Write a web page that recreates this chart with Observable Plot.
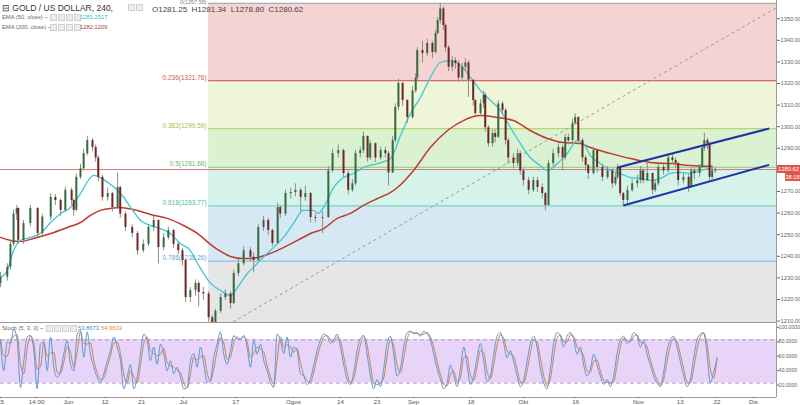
<!DOCTYPE html>
<html><head><meta charset="utf-8">
<script src="https://cdn.jsdelivr.net/npm/d3@7"></script>
<script src="https://cdn.jsdelivr.net/npm/@observablehq/plot@0.6"></script>
<style>
body{margin:0;width:800px;height:405px;overflow:hidden;background:#fff;font-family:"Liberation Sans",Arial,sans-serif;}
#wrap{position:relative;width:800px;height:405px;}
#wrap svg{display:block;}
#main{position:absolute;left:0;top:0;}
#stoch{position:absolute;left:0;top:322px;}
.ov{position:absolute;white-space:nowrap;line-height:1;}
.box{display:inline-block;width:5px;height:5px;border:1px solid #cfcfcf;background:#ececec;margin-right:1px;vertical-align:middle;}
.sep{position:absolute;background:#9a9a9a;}
.tag{position:absolute;color:#fff;font-size:5.8px;text-align:center;line-height:8px;height:8px;}
</style></head><body><div id="wrap">
<div id="main"></div><div id="stoch"></div>
</div>
<script>
// ---------- DATA ----------
const candleDay = [-13.0,-11.7,-11.1,-10.5,-9.9,-9.6,-8.6,-7.3,-5.9,-5.0,-3.4,-2.5,-1.5,-0.6,0.6,1.0,1.5,2.3,2.9,3.6,4.6,5.2,5.7,6.5,7.5,8.4,9.4,9.9,10.9,12.2,13.2,14.3,15.3,16.3,17.2,18.2,19.1,20.1,21.0,21.8,22.4,23.3,24.3,24.9,25.8,26.8,27.5,28.1,29.1,30.0,31.0,31.6,32.5,33.5,34.8,35.4,36.3,37.3,38.2,39.0,40.0,40.5,41.5,42.5,43.4,44.4,45.3,46.3,47.2,48.6,49.7,50.5,51.6,52.6,53.5,54.3,54.9,55.8,56.4,57.2,57.7,58.7,59.7,60.6,61.2,62.0,62.5,63.1,63.9,64.8,65.8,66.4,66.7,67.7,68.6,69.6,70.2,70.6,71.1,71.7,72.1,72.7,73.4,74.0,74.6,75.3,75.9,76.5,77.4,77.8,78.8,79.4,79.7,80.3,81.1,81.6,82.2,83.0,83.6,84.1,85.1,85.9,86.4,87.0,88.0,88.9,89.7,90.6,91.2,91.8,92.7,93.7,94.5,95.0,95.6,96.4,96.9,97.5,98.3,98.9,99.4,100.4,101.1,102.1,103.1,104.0,104.6,105.0,105.5,106.1,106.9,107.8,108.8,109.4,109.9,110.7,111.7,112.2,112.8,113.8,114.7,115.5,116.1,116.6,117.6,118.6,119.1,119.7,120.7,121.2,121.6,122.2,122.6,123.1,123.7];
const candleClose = [1230.8,1235.4,1246,1260,1262.6,1247.8,1255.6,1262.6,1251,1258.6,1267.7,1266.3,1261.7,1271,1266.3,1261.7,1277,1281,1288,1294,1290.8,1286,1277,1267.7,1269.5,1263,1272.3,1260,1253.8,1251,1243,1246,1253.8,1257,1244.5,1249,1252.4,1246,1243,1238.5,1221.4,1224.6,1227.9,1223.7,1223,1212,1207,1215,1221.4,1223,1218.6,1232.5,1237,1243,1240,1238.5,1253.8,1257,1252.4,1246.4,1263,1260,1269.5,1270,1271,1267.7,1269.5,1258.4,1258,1258.4,1280,1288,1289.4,1278.8,1271,1274,1288,1289.4,1296,1286,1292.6,1286,1289.4,1288,1279,1294,1309.4,1320.5,1312.6,1304.7,1317,1323,1335.7,1334.3,1339,1334.8,1343.6,1349.6,1355,1347.3,1337,1328,1331,1329.7,1323,1328,1330,1322,1312.6,1306.6,1311,1315,1300,1292.6,1297.3,1295.5,1311,1308,1294,1286,1283.4,1288,1280,1275.5,1271,1275.5,1272.3,1269.5,1264,1283.4,1288,1290.8,1286,1295.5,1294,1302,1304.7,1294,1286,1282.5,1278.8,1289.4,1281.6,1277,1280,1274,1277,1281.6,1269.5,1266.3,1271,1274,1275.5,1280,1275.5,1278.8,1271,1274,1281.6,1280,1286,1284.8,1283.4,1275.5,1277,1272.3,1280,1278.8,1281.6,1290.4,1294,1292.6,1277,1280,1280.62];
const candleHigh = [1233,1237,1248,1262,1264,1263,1257,1264,1263,1260,1269.5,1269,1267,1272.5,1272,1267,1278.5,1283,1290,1296,1295,1292,1287,1278,1272,1270,1279,1273,1261,1255,1252,1248,1255,1259,1257.5,1251,1254,1253,1247,1244,1239,1226,1229.5,1229,1226,1224,1213,1216,1223,1225,1224,1234,1239,1245,1244.5,1242,1255,1259,1258,1253,1265,1264,1271,1272,1274,1272,1273,1270,1260,1261,1282,1290,1292,1290,1280,1276,1289.5,1291,1298,1296,1294,1293,1291,1291,1289,1296,1311,1322.5,1321,1313,1319,1325,1337,1340,1341,1340,1345,1351,1357.6,1356,1348,1338,1333,1332.5,1331,1330,1332,1331,1322,1313,1313,1317,1316,1301,1299,1299,1312.5,1312,1309,1295,1288,1290,1289,1281,1277,1277,1277,1274,1270,1285,1290,1292.5,1292,1297,1297,1304,1306.5,1305,1295,1287,1283,1291,1290,1283,1282,1281,1279,1283,1282,1270,1273,1276,1278,1282,1281,1285,1279,1276,1283,1283,1288,1288,1286,1284,1279,1278,1281.5,1281,1283,1292,1297.5,1295,1293,1282,1281.34];
const candleLow = [1226,1229,1234,1245,1257,1246,1246,1254,1249,1250,1257,1264,1259,1261,1264,1259,1261,1276,1280,1287,1289,1284,1275,1266,1266,1261,1262,1258,1252,1249,1241,1242,1245,1252,1237,1243,1248,1244,1241,1236,1219,1219,1222,1217,1220,1210,1204.5,1206,1214,1220,1216,1218,1231,1236,1238,1233,1238,1252,1250,1245,1246,1258,1259,1267,1268,1261,1266,1256,1256,1251,1258,1279,1286,1277,1269,1270,1273,1286,1288,1284,1285,1284,1285,1286,1273,1279,1293,1308,1310,1302,1304,1316,1322,1330,1333,1332,1334,1343,1348,1345,1335,1326,1326,1327,1321,1322,1326,1314,1310,1305,1305,1309,1298,1291,1291,1293,1295,1306,1292,1283,1281,1282,1278,1273,1269,1270,1270,1267,1261.5,1264,1282,1286,1280,1285,1292,1293,1301,1292,1284,1280,1276,1278,1279,1275,1276,1272,1273,1276,1268,1264,1265,1270,1272,1274,1274,1275,1269,1270,1273,1278,1279,1283,1281,1273,1274,1270,1272,1276,1277,1281,1289,1290,1275,1276,1278.8];
const firstOpen = 1228;

const ema50Day = [-13.0,-11.7,-10.5,-9.2,-7.3,-5.4,-3.4,-1.5,0.4,2.3,3.8,4.8,6.1,7.5,9.0,10.3,11.9,13.8,15.7,17.6,19.5,21.4,23.3,24.7,27.2,29.1,31.0,32.3,34.2,36.1,38.0,39.2,41.1,43.0,44.9,46.8,47.8,48.8,50.7,52.6,54.5,56.4,59.1,61.6,63.5,65.4,67.3,69.2,71.1,73.0,75.0,76.9,78.8,80.7,82.6,84.5,86.4,88.3,90.2,91.6,93.5,95.4,97.3,98.5,99.8,101.7,103.6,105.5,107.5,109.4,111.3,113.2,115.1,117.0,118.9,120.8,123.1];
const ema50 = [1230.6,1233.9,1243.1,1247.8,1249.2,1251.0,1256.1,1260.3,1263.1,1269.5,1275.6,1277.9,1276.9,1274.6,1271.9,1268.6,1263.1,1257.0,1254.7,1253.3,1251.0,1246.4,1243.1,1237.1,1227.9,1224.6,1222.3,1226.0,1232.5,1237.1,1241.8,1244.5,1249.2,1255.6,1261.7,1261.7,1260.3,1263.1,1272.3,1276.9,1278.8,1281.6,1283.4,1285.7,1296.4,1306.6,1314.0,1323.2,1330.2,1331.1,1328.8,1323.2,1317.2,1312.6,1308.0,1300.1,1292.7,1286.2,1282.5,1280.2,1283.4,1288.1,1294.1,1292.7,1287.1,1283.4,1280.2,1278.8,1276.9,1276.5,1275.6,1276.5,1278.8,1279.3,1278.8,1280.2,1281.25];
const ema200Day = [-13.0,-11.1,-9.2,-6.7,-3.4,-0.2,2.3,4.2,6.1,8.0,9.9,12.4,15.7,18.9,22.0,24.7,27.2,29.1,31.0,33.5,36.1,38.6,41.1,43.8,46.3,48.8,51.4,53.9,56.4,59.1,61.6,62.9,66.0,69.2,72.5,75.5,78.8,82.0,85.1,88.3,91.6,94.6,97.9,99.8,103.6,107.5,111.3,115.1,118.9,123.1];
const ema200 = [1249.2,1247.8,1247.3,1248.7,1251.0,1253.8,1256.1,1259.4,1261.7,1262.6,1263.1,1262.1,1259.8,1258.0,1254.7,1251.0,1245.9,1242.7,1240.4,1239.4,1239.9,1241.8,1244.5,1247.8,1251.0,1253.3,1258.0,1260.3,1264.0,1267.2,1270.0,1272.3,1280.2,1290.8,1298.7,1303.3,1305.6,1304.7,1303.3,1298.7,1295.0,1293.1,1292.7,1290.8,1288.1,1285.7,1283.9,1283.4,1282.5,1282.12];

const fibRatios = [0, 0.236, 0.382, 0.5, 0.618, 0.786, 1];
const fibPrices = [1357.58, 1321.76, 1299.59, 1281.68, 1263.77, 1238.26, 1205.78];
const fibStartDay = 26.8;
const lastPrice = 1280.62;

const trendDays = [27.5, 135.4];
const trendPrices = [1204.5, 1355.6];
const chanUpperDays = [105.0, 134.0];
const chanUpperPrices = [1281.6, 1299.6];
const chanLowerDays = [106.1, 134.0];
const chanLowerPrices = [1264.0, 1282.8];

const priceTicks = [1210,1220,1230,1240,1250,1260,1270,1290,1300,1310,1320,1330,1340,1350];
const stochTicks = [20,40,60,80,100];
const timeTickDays = [-13, -6.1, 0, 7, 14, 22, 32, 43, 52, 59, 66, 77, 87, 97, 109, 117, 124, 131];
const timeTickLabels = ["15","14:00","Jun","12","21","Jul","17","Ogos","14","23","Sep","18","Okt","16","Nov","13","22","Dis"];

const stochStartDay = -13;
const stochStepDay = 0.6373;
const stochK = [79,37,77,75,95,79,14,51,84,86,65,12,74,77,37,84,42,28,37,61,79,46,37,88,93,56,91,60,42,28,21,33,50,65,84,70,51,12,28,46,12,28,61,88,79,51,70,46,74,61,37,51,33,42,28,12,14,51,61,42,70,46,21,24,56,74,91,60,46,65,86,81,81,86,70,42,79,60,74,51,37,21,14,88,79,61,84,56,70,65,33,
30,18,25,45,65,80,88,85,75,80,88,70,45,25,18,35,65,82,86,60,30,12,25,15,40,75,85,60,30,40,70,90,92,88,90,85,92,88,80,60,40,25,12,20,45,30,15,40,70,45,18,30,55,75,50,22,30,60,85,90,75,55,65,50,30,15,25,50,75,85,70,40,20,12,40,75,90,85,70,85,90,80,60,70,45,30,40,60,45,30,18,25,15,30,60,80,85,75,80,90,85,70,80,60,45,30,20,15,35,65,80,85,70,50,30,15,25,55,80,88,90,60,20,35,54];
const stochD = [80,58,57,76,85,87,47,33,68,85,76,39,43,76,57,61,63,35,33,49,70,63,42,63,91,75,74,76,51,35,25,27,42,58,75,77,61,32,20,37,29,20,45,75,84,65,61,58,60,68,49,44,42,38,35,20,13,33,56,52,56,58,34,23,40,65,83,76,53,56,76,84,81,84,78,56,61,70,67,63,44,29,18,51,84,70,73,70,63,68,49,
31,24,21,35,55,72,84,86,80,77,84,79,57,35,21,26,50,73,84,73,45,21,18,20,27,57,80,72,45,35,55,80,91,90,89,87,88,90,84,70,50,32,18,16,32,37,22,27,55,57,31,24,42,65,62,36,26,45,72,87,82,65,60,57,40,22,20,37,62,80,77,55,30,16,26,57,82,87,77,77,87,85,70,65,57,37,35,50,52,37,24,21,20,22,45,70,82,80,77,85,87,77,75,70,52,37,25,17,25,50,72,82,77,60,40,22,20,40,67,84,89,75,40,27,55];

// ---------- STYLE ----------
const fibFill = ["#f6d3d3","#eef5d9","#daf1d2","#d6f3ea","#d6e8f4","#e6e6e6"];
const fibStroke = ["#b0b0b0","#d46a6a","#b6d66e","#80cb7e","#7ad5c0","#8dbbe0","#999999"];
const fibText = ["#888888","#c95a5a","#a9bf46","#6bbd6b","#4fbea5","#6aa6d6","#888888"];
const upColor = "#356b40", downColor = "#6e2626";
const xDomain = [-13, 135.4];
const yDomain = [1209.8, 1358.9];
const font = "Liberation Sans, Arial, sans-serif";

// ---------- BUILD ----------
const candles = candleClose.map((c, i) => ({
  day: candleDay[i], close: c, high: candleHigh[i], low: candleLow[i],
  open: i === 0 ? firstOpen : candleClose[i - 1]
}));
const e50 = ema50.map((v, i) => ({day: ema50Day[i], v}));
const e200 = ema200.map((v, i) => ({day: ema200Day[i], v}));
const fibBands = fibFill.map((f, i) => ({top: fibPrices[i], bottom: fibPrices[i + 1], fill: f}));
const fibLevels = fibRatios.map((r, i) => ({r, p: fibPrices[i], stroke: fibStroke[i], color: fibText[i]}));
const fibLabelled = fibLevels.filter(d => d.p > yDomain[0] && d.r > 0);
const fibTop = fibLevels.filter(d => d.r === 0);
const stoch = stochK.map((k, i) => ({day: stochStartDay + i * stochStepDay, k, d: stochD[i]}));

const main = Plot.plot({
  width: 800, height: 330,
  marginLeft: 0, marginRight: 24, marginTop: 0, marginBottom: 8,
  x: {domain: xDomain, axis: null},
  y: {domain: yDomain, axis: null},
  style: {fontFamily: font, background: "transparent"},
  marks: [
    Plot.rect(fibBands, {x1: fibStartDay, x2: xDomain[1], y1: "top", y2: "bottom", fill: "fill", clip: true}),
    Plot.ruleY(fibLevels, {y: "p", x1: fibStartDay, x2: xDomain[1], stroke: "stroke", strokeWidth: 1.2, clip: true}),
    Plot.text(fibLabelled, {x: fibStartDay, y: "p", text: d => `${d.r}(${d.p.toFixed(2)})`, fill: "color", textAnchor: "end", lineAnchor: "bottom", dx: -2, dy: -1, fontSize: 6.5}),
    Plot.text(fibTop, {x: fibStartDay, y: "p", text: d => `${d.r}(${d.p.toFixed(2)})`, fill: "color", textAnchor: "end", lineAnchor: "top", dx: -2, dy: -3, fontSize: 5.5}),
    Plot.ruleY([lastPrice], {stroke: "#e57373", strokeWidth: 1, clip: true}),
    Plot.link([0], {x1: trendDays[0], y1: trendPrices[0], x2: trendDays[1], y2: trendPrices[1], stroke: "#9a9a9a", strokeWidth: 1, strokeDasharray: "3,3", clip: true}),
    Plot.line(e200, {x: "day", y: "v", stroke: "#c0392b", strokeWidth: 1.5, curve: "monotone-x", clip: true}),
    Plot.line(e50, {x: "day", y: "v", stroke: "#3cc8d2", strokeWidth: 1.3, curve: "monotone-x", clip: true}),
    Plot.ruleX(candles, {x: "day", y1: "low", y2: "high", stroke: "#8c8c8c", strokeWidth: 1, clip: true}),
    Plot.ruleX(candles, {x: "day", y1: "open", y2: "close", stroke: d => d.close >= d.open ? upColor : downColor, strokeWidth: 2, clip: true}),
    Plot.link([0], {x1: chanUpperDays[0], y1: chanUpperPrices[0], x2: chanUpperDays[1], y2: chanUpperPrices[1], stroke: "#1f33a6", strokeWidth: 2}),
    Plot.link([0], {x1: chanLowerDays[0], y1: chanLowerPrices[0], x2: chanLowerDays[1], y2: chanLowerPrices[1], stroke: "#1f33a6", strokeWidth: 2}),
    Plot.ruleX([xDomain[1]], {stroke: "#9a9a9a"}),
    Plot.axisY(priceTicks, {anchor: "right", label: null, tickFormat: d => d.toFixed(2), tickSize: 3, tickPadding: 1, fontSize: 5.8, color: "#666", dy: -1})
  ]
});
document.getElementById("main").appendChild(main);

const st = Plot.plot({
  width: 800, height: 85,
  marginLeft: 0, marginRight: 24, marginTop: 0, marginBottom: 10,
  x: {domain: xDomain, label: null},
  y: {domain: [0, 104], axis: null},
  style: {fontFamily: font, background: "transparent"},
  marks: [
    Plot.rect([0], {x1: xDomain[0], x2: xDomain[1], y1: 20, y2: 80, fill: "#e8d4f8"}),
    Plot.ruleY([20, 80], {stroke: "#b593c9", strokeDasharray: "4,3", strokeWidth: 1}),
    Plot.line(stoch, {x: "day", y: "d", stroke: "#c9824f", strokeWidth: 1, curve: "monotone-x", clip: true}),
    Plot.line(stoch, {x: "day", y: "k", stroke: "#5b98d6", strokeWidth: 1, curve: "monotone-x", clip: true}),
    Plot.ruleY([0], {stroke: "#9a9a9a"}),
    Plot.ruleX([xDomain[1]], {stroke: "#9a9a9a"}),
    Plot.axisY(stochTicks, {anchor: "right", label: null, tickFormat: d => d.toFixed(4), tickSize: 2, tickPadding: 0, fontSize: 5.2, color: "#666", dy: 2}),
    Plot.axisX(timeTickDays, {anchor: "bottom", label: null, tickFormat: (d, i) => timeTickLabels[i], tickSize: 1, tickPadding: 1, fontSize: 6.2, color: "#555"})
  ]
});
document.getElementById("stoch").appendChild(st);

// ---------- OVERLAYS (legend text) ----------
const wrap = document.getElementById("wrap");
function ov(html, left, top, size, color) {
  const d = document.createElement("div");
  d.className = "ov"; d.innerHTML = html;
  d.style.left = left + "px"; d.style.top = top + "px";
  d.style.fontSize = size + "px"; d.style.color = color;
  wrap.appendChild(d);
}
const boxes = '<span class="box"></span><span class="box"></span><span class="box"></span><span class="box"></span>';
ov("⊟ GOLD / US DOLLAR, 240,", 2, 4, 8.5, "#333");
ov('<span class="box"></span><span class="box"></span>', 128, 4, 8, "#333");
ov("O1281.25 &nbsp;H1281.34 &nbsp;L1278.80 &nbsp;C1280.62", 152, 6, 8, "#444");
ov("EMA (50, close) ~", 2, 15, 5.8, "#666");
ov(boxes, 50, 14, 5.8, "#666");
ov("1281.2517", 80, 15, 5.8, "#27bcc8");
ov("EMA (200, close) ~", 2, 25, 5.8, "#666");
ov(boxes, 50, 24, 5.8, "#666");
ov("1282.1209", 80, 25, 5.8, "#c0392b");
ov("Stoch (5, 3, 3) ~", 2, 326, 5.8, "#666");
ov(boxes, 46, 325, 5.8, "#666");
ov("53.8673", 78, 326, 5.8, "#4a90d9");
ov("54.9633", 101, 326, 5.8, "#e8873a");

// separator between panes
const sep = document.createElement("div");
sep.className = "sep"; sep.style.left = "0px"; sep.style.top = "322px"; sep.style.width = "777px"; sep.style.height = "1px";
wrap.appendChild(sep);

// last price tags on the right axis
const yMain = main.scale("y");
const tagY = yMain.apply(lastPrice);
function tag(text, left, top, width) {
  const d = document.createElement("div");
  d.className = "tag"; d.textContent = text;
  d.style.left = left + "px"; d.style.top = top + "px"; d.style.width = width + "px";
  d.style.background = "#e0554a";
  wrap.appendChild(d);
}
tag(lastPrice.toFixed(2), 777, tagY - 4, 23);
tag("38:18", 785, tagY + 4, 15);
</script></body></html>
